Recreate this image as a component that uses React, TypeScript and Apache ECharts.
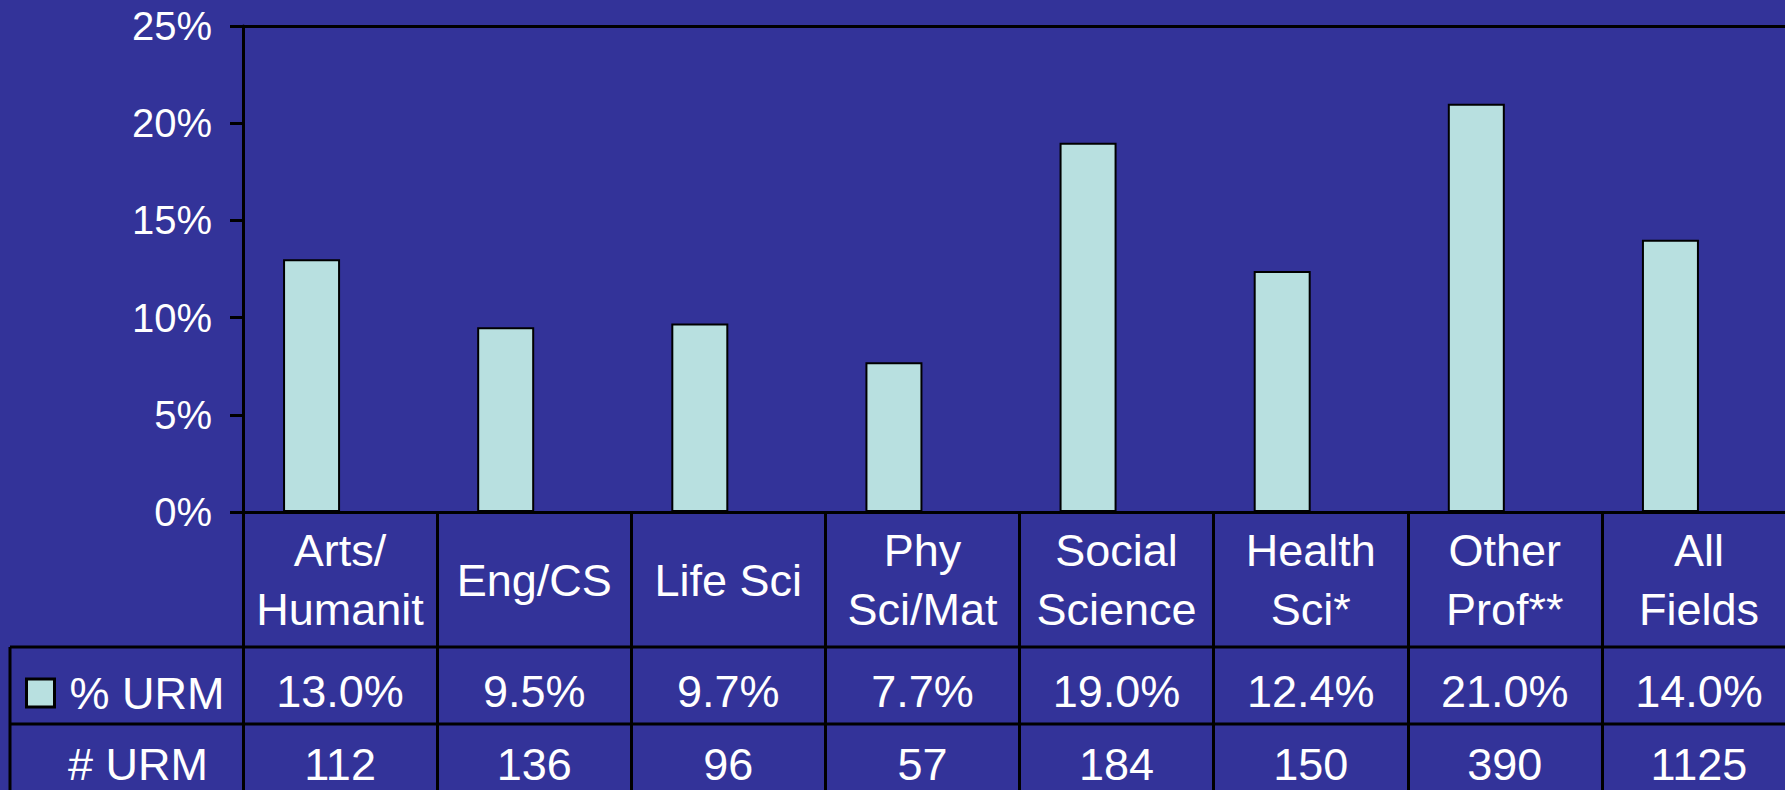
import React, { useEffect, useRef } from "react";
import * as echarts from "echarts";

const categories = [
  "Arts/\nHumanit",
  "Eng/CS",
  "Life Sci",
  "Phy\nSci/Mat",
  "Social\nScience",
  "Health\nSci*",
  "Other\nProf**",
  "All\nFields",
];
const pctURM = [13.0, 9.5, 9.7, 7.7, 19.0, 12.4, 21.0, 14.0];
const numURM = [112, 136, 96, 57, 184, 150, 390, 1125];
const seriesName = "% URM";
const countRowName = "# URM";
const yMin = 0;
const yMax = 25;
const yInterval = 5;

const BG = "#333399";
const BAR = "#B8E0E0";
const FONT = "'Liberation Sans', Arial, Helvetica, sans-serif";

export default function App() {
  const ref = useRef<HTMLDivElement>(null);
  useEffect(() => {
    if (!ref.current) return;
    const chart = echarts.init(ref.current, null, { renderer: "svg" });
    const LW = 3;
    const lineStyle = { color: "#000", width: LW };
    const gridLeft = 243;
    const gridTop = 26;
    const gridHeight = 486;
    const gridWidth = 1553;
    const axisY = gridTop + gridHeight;
    const row1 = 647;
    const row2 = 724;
    const W = 1785;
    const H = 790;
    const hLine = (y: number, x1: number) => ({
      type: "line",
      shape: { x1, y1: y, x2: W, y2: y },
      style: { stroke: "#000", lineWidth: LW },
      z: 10,
    });
    chart.setOption({
      animation: false,
      backgroundColor: BG,
      textStyle: { fontFamily: FONT },
      grid: {
        left: gridLeft,
        top: gridTop,
        width: gridWidth,
        height: gridHeight,
        containLabel: false,
        outerBoundsMode: "none",
      },
      legend: {
        data: [seriesName],
        left: 25,
        top: 669,
        padding: 0,
        icon: "rect",
        itemWidth: 28,
        itemHeight: 28,
        selectedMode: false,
        itemStyle: { color: BAR, borderColor: "#000", borderWidth: 3 },
        textStyle: {
          color: "#fff",
          fontSize: 45,
          fontFamily: FONT,
          lineHeight: 48,
          padding: [0, 0, 0, 10],
        },
      },
      xAxis: [
        {
          type: "category",
          data: categories,
          position: "bottom",
          axisLine: { show: true, lineStyle },
          axisTick: { show: true, length: H - axisY + 20, lineStyle },
          axisLabel: {
            interval: 0,
            color: "#fff",
            fontSize: 45,
            lineHeight: 59,
            fontFamily: FONT,
            margin: 68,
            verticalAlign: "middle",
            align: "center",
          },
          splitLine: { show: false },
        },
        {
          type: "category",
          data: pctURM.map((v) => v.toFixed(1) + "%"),
          position: "bottom",
          axisLine: { show: false },
          axisTick: { show: false },
          axisLabel: {
            interval: 0,
            color: "#fff",
            fontSize: 45,
            fontFamily: FONT,
            margin: 179,
            verticalAlign: "middle",
          },
        },
        {
          type: "category",
          data: numURM.map((v) => String(v)),
          position: "bottom",
          axisLine: { show: false },
          axisTick: { show: false },
          axisLabel: {
            interval: 0,
            color: "#fff",
            fontSize: 45,
            fontFamily: FONT,
            margin: 252,
            verticalAlign: "middle",
          },
        },
        {
          type: "category",
          data: categories,
          position: "top",
          axisLine: { show: true, lineStyle },
          axisTick: { show: false },
          axisLabel: { show: false },
        },
      ],
      yAxis: {
        type: "value",
        min: yMin,
        max: yMax,
        interval: yInterval,
        axisLine: { show: true, lineStyle },
        axisTick: { show: true, length: 13, lineStyle },
        splitLine: { show: false },
        axisLabel: {
          formatter: "{value}%",
          color: "#fff",
          fontSize: 40,
          fontFamily: FONT,
          margin: 31,
        },
      },
      series: [
        {
          name: seriesName,
          type: "bar",
          xAxisIndex: 0,
          data: pctURM,
          barWidth: 57,
          barGap: "0%",
          itemStyle: { color: BAR, borderColor: "#000", borderWidth: 2 },
        },
        {
          name: "spacer",
          type: "bar",
          xAxisIndex: 0,
          data: pctURM.map(() => null),
          barWidth: 57,
          barGap: "0%",
          itemStyle: { color: "transparent" },
        },
      ],
      graphic: [
        hLine(row1, 10),
        hLine(row2, 10),
        {
          type: "line",
          shape: { x1: 10, y1: row1, x2: 10, y2: H },
          style: { stroke: "#000", lineWidth: LW },
          z: 10,
        },
        {
          type: "text",
          x: 68,
          y: 764,
          style: {
            text: countRowName,
            fill: "#fff",
            fontSize: 45,
            fontFamily: FONT,
            verticalAlign: "middle",
            align: "left",
          },
          z: 10,
        },
      ],
    });
    return () => chart.dispose();
  }, []);
  return (
    <div
      ref={ref}
      style={{ position: "fixed", left: 0, top: 0, width: 1785, height: 790 }}
    />
  );
}
